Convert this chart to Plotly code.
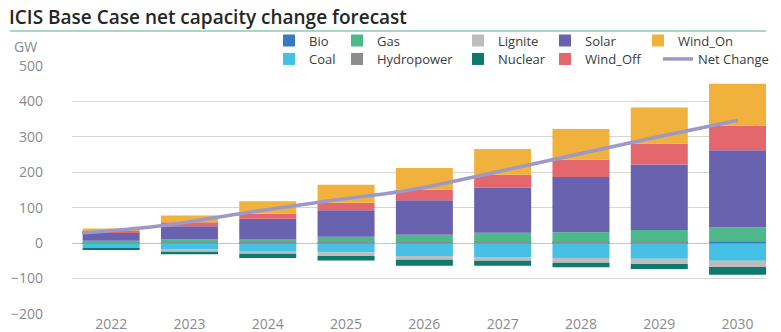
import plotly.graph_objects as go

years = ["2022", "2023", "2024", "2025", "2026", "2027", "2028", "2029", "2030"]

bio = [1, 1, 2, 2, 2, 3, 3, 3, 4]
hydropower = [1, 1, 1, 1, 1, 1, 1, 1, 1]
gas = [5, 8, 9, 15, 21, 25, 27, 33, 40]
coal = [-14, -19, -24, -26, -36, -39, -42, -44, -50]
lignite = [-2, -5, -6, -10, -11, -11, -13, -15, -17]
nuclear = [-3, -7, -12, -13, -17, -14, -13, -14, -22]
solar = [22, 38, 57, 75, 97, 127, 156, 185, 217]
wind_off = [5, 11, 14, 21, 30, 37, 49, 59, 70]
wind_on = [7, 19, 35, 51, 61, 73, 86, 102, 118]
net_change = [29, 50, 86, 119, 150, 198, 249, 299, 347]
net_pos = list(range(len(years)))

title_text = "ICIS Base Case net capacity change forecast"
y_ticks = [-200, -100, 0, 100, 200, 300, 400, 500]

colors = {
    "Bio": "#3a78c2",
    "Coal": "#45c1e5",
    "Gas": "#4db889",
    "Hydropower": "#8c8c8c",
    "Lignite": "#bdbdbd",
    "Nuclear": "#0e7a6d",
    "Solar": "#6962ae",
    "Wind_Off": "#e4676d",
    "Wind_On": "#f0b13d",
    "Net Change": "#9c98c8",
}

FONT = "Open Sans"
W, H = 781, 332
L, R, T, B = 72, 15, 66, 18
PW = W - L - R
PH = H - T - B


def px_x(p):
    return (p - L) / PW


def px_y(p):
    return (H - B - p) / PH


ROW1, ROW2 = 40.5, 59

# (name, values, legend text x in px, legend row centre y in px)
series = [
    ("Bio", bio, 309, ROW1),
    ("Hydropower", hydropower, 377, ROW2),
    ("Gas", gas, 377, ROW1),
    ("Coal", coal, 309, ROW2),
    ("Lignite", lignite, 498, ROW1),
    ("Nuclear", nuclear, 498, ROW2),
    ("Solar", solar, 585, ROW1),
    ("Wind_Off", wind_off, 585, ROW2),
    ("Wind_On", wind_on, 678, ROW1),
]

legend_font = dict(family=FONT, size=13, color="#3a3a3a")
legends = {}

fig = go.Figure()
for i, (name, vals, tx, ty) in enumerate(series):
    key = "legend" if i == 0 else f"legend{i + 1}"
    legends[key] = dict(
        x=px_x(tx - 40), xanchor="left", y=px_y(ty), yanchor="middle",
        orientation="v", font=legend_font, bgcolor="rgba(0,0,0,0)",
        borderwidth=0, itemclick=False,
    )
    fig.add_trace(go.Bar(
        x=years, y=vals, name=name, marker_color=colors[name],
        marker_line_width=0, legend=key,
    ))

net_key = f"legend{len(series) + 1}"
legends[net_key] = dict(
    x=px_x(698 - 40), xanchor="left", y=px_y(ROW2), yanchor="middle",
    orientation="v", font=legend_font, bgcolor="rgba(0,0,0,0)",
    borderwidth=0, itemclick=False,
)
fig.add_trace(go.Scatter(
    x=net_pos, y=net_change, name="Net Change", mode="lines",
    line=dict(color=colors["Net Change"], width=3.5, shape="spline"),
    xaxis="x2", legend=net_key,
))

fig.update_layout(
    width=W, height=H,
    margin=dict(l=L, r=R, t=T, b=B, pad=0, autoexpand=False),
    plot_bgcolor="white", paper_bgcolor="white",
    barmode="relative", bargap=0.272,
    showlegend=True,
    title=dict(
        text=title_text, x=9 / W, xanchor="left", xref="container",
        y=1 - 17 / H, yanchor="middle", yref="container",
        font=dict(family=FONT, size=19, color="#262626", weight=600),
    ),
    xaxis=dict(
        type="category", range=[-0.5, 8.363], showgrid=False, automargin=False,
        showline=False, ticks="", tickfont=dict(family=FONT, size=14, color="#8a8a8a"),
        fixedrange=True,
    ),
    xaxis2=dict(
        overlaying="x", range=[-0.122, 8.341], visible=False, fixedrange=True,
    ),
    yaxis=dict(
        range=[-200, 500], tickvals=y_ticks, showgrid=True, gridcolor="#d6d6d6",
        gridwidth=1, zeroline=True, zerolinecolor="#c4c4c4", zerolinewidth=1,
        ticks="", ticklabelstandoff=28, showline=False, automargin=False,
        tickfont=dict(family=FONT, size=14, color="#8a8a8a"),
        fixedrange=True,
    ),
    **legends,
)

fig.add_shape(
    type="line", xref="paper", yref="paper",
    x0=px_x(10), x1=1.0, y0=px_y(31), y1=px_y(31),
    line=dict(color="#a9d9c6", width=2),
)
fig.add_annotation(
    text="GW", xref="paper", yref="paper", x=px_x(12), y=px_y(47),
    xanchor="left", yanchor="middle", showarrow=False,
    font=dict(family=FONT, size=14, color="#8a8a8a"),
)

fig.write_html("out.html")
